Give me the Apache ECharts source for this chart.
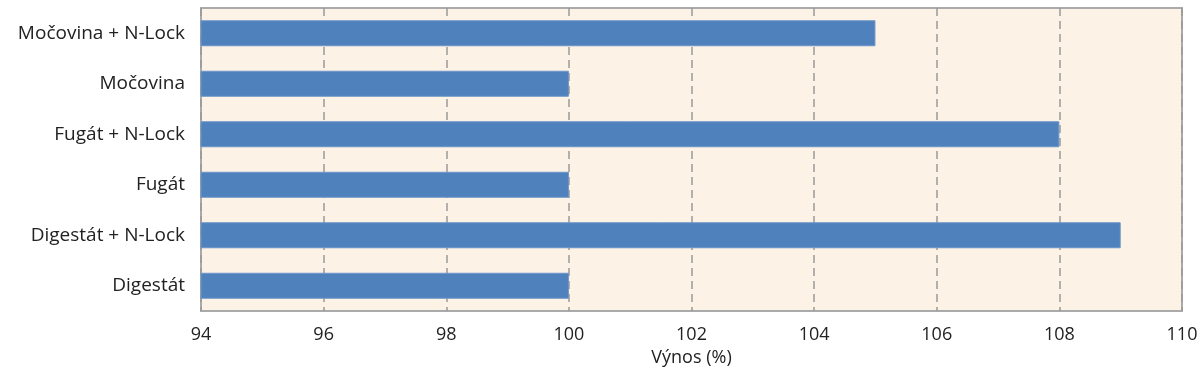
<!DOCTYPE html>
<html><head><meta charset="utf-8">
<script src="https://cdn.jsdelivr.net/npm/echarts@6/dist/echarts.min.js"></script>
<style>html,body{margin:0;padding:0;background:#fff}#c{width:1200px;height:373px}</style>
</head><body><div id="c"></div>
<script>
const categories = ["Digestát", "Digestát + N-Lock", "Fugát", "Fugát + N-Lock", "Močovina", "Močovina + N-Lock"];
const values = [100, 109, 100, 108, 100, 105];
const axisName = "Výnos (%)";

const chart = echarts.init(document.getElementById('c'));
const font = "'Open Sans', 'Noto Sans', sans-serif";
chart.setOption({
  animation: false,
  grid: {left: 201, right: 18, top: 8, bottom: 62, outerBoundsMode: 'none', containLabel: false, show: true, backgroundColor: '#fcf2e6', borderColor: '#aaaaaa', borderWidth: 2},
  xAxis: {
    type: 'value', min: 94, max: 110, interval: 2,
    name: axisName, nameLocation: 'middle', nameGap: 38,
    nameTextStyle: {fontFamily: font, fontSize: 18, color: '#222'},
    axisLine: {show: false}, axisTick: {show: false},
    axisLabel: {fontFamily: font, fontSize: 18, color: '#222', margin: 15},
    splitLine: {show: true, lineStyle: {color: '#999', type: [8, 5], width: 1.5}}
  },
  yAxis: {
    type: 'category', data: categories,
    axisLine: {show: false}, axisTick: {show: false},
    axisLabel: {fontFamily: font, fontSize: 19, color: '#222', margin: 16}
  },
  series: [{
    type: 'bar', data: values, barWidth: 26,
    itemStyle: {color: '#4f81bd', borderColor: '#6d95c8', borderWidth: 1}
  }]
});
</script></body></html>
